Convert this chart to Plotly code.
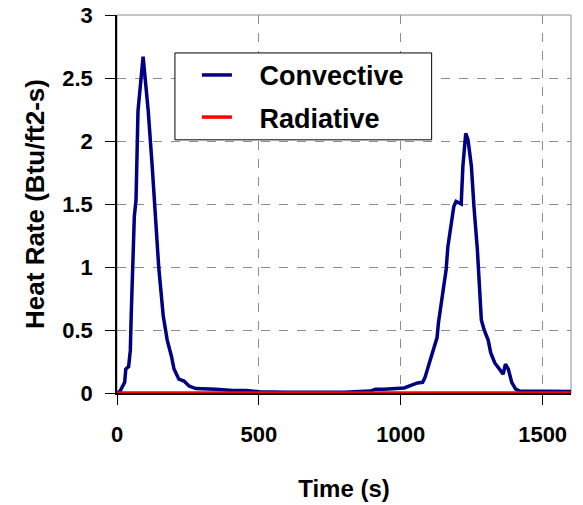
import plotly.graph_objects as go

# Convective heat rate (time in s, Btu/ft2-s)
conv_t = [0, 11, 27, 31, 41, 47, 50, 55, 61, 67, 74, 92, 110, 124, 136, 147, 163, 177, 192, 201,
          218, 236, 254, 278, 349, 408, 455, 503, 600, 700, 800, 893, 911, 941, 976, 1012, 1036,
          1059, 1077, 1085, 1097, 1112, 1128, 1133, 1144, 1160, 1166, 1178, 1187, 1195, 1213,
          1219, 1229, 1237, 1249, 1258, 1270, 1284, 1294, 1308, 1317, 1331, 1349, 1361, 1369,
          1379, 1391, 1405, 1420, 1500, 1600]
conv_q = [0.0, 0.015, 0.085, 0.19, 0.21, 0.34, 0.61, 1.0, 1.40, 1.53, 2.24, 2.67, 2.24, 1.8, 1.37, 1.0, 0.61, 0.42, 0.29, 0.19,
          0.11, 0.095, 0.055, 0.035, 0.03, 0.02, 0.02, 0.01, 0.005, 0.004, 0.005, 0.015, 0.03, 0.03, 0.033, 0.04, 0.06,
          0.08, 0.085, 0.12, 0.21, 0.32, 0.44, 0.56, 0.74, 0.98, 1.16, 1.32, 1.48, 1.52, 1.50,
          1.80, 2.06, 2.01, 1.80, 1.48, 1.14, 0.58, 0.50, 0.42, 0.32, 0.24, 0.19, 0.15, 0.23,
          0.19, 0.085, 0.03, 0.015, 0.012, 0.012]

# Radiative heat rate
rad_t = [0, 400, 800, 1200, 1600]
rad_q = [0.0, 0.0, 0.0, 0.0, 0.0]

x_ticks = [0, 500, 1000, 1500]
y_ticks = [0, 0.5, 1, 1.5, 2, 2.5, 3]

FONT = "Liberation Sans, Arial, sans-serif"
PAD = "\u00a0\u00a0\u00a0"

fig = go.Figure()
fig.add_trace(go.Scatter(x=conv_t, y=conv_q, mode="lines", name=PAD + "Convective",
                         line=dict(color="#000080", width=3.5), legendgroup="a", cliponaxis=False))
fig.add_trace(go.Scatter(x=rad_t, y=rad_q, mode="lines", name=PAD + "Radiative",
                         line=dict(color="#FF0000", width=3.5), legendgroup="b", cliponaxis=False))

fig.update_layout(
    width=583, height=505,
    margin=dict(l=117, r=11.5, t=15, b=111.5),
    paper_bgcolor="white", plot_bgcolor="white",
    font=dict(family=FONT, color="black"),
    showlegend=True,
    legend=dict(x=(197 - 117) / 454.5, y=0.905, xanchor="left", yanchor="top",
                bgcolor="rgba(0,0,0,0)", borderwidth=0,
                font=dict(family=FONT, size=27, weight="bold", color="black"),
                tracegroupgap=4),
    shapes=[
        dict(type="rect", xref="paper", yref="paper", x0=0, x1=1, y0=0, y1=1,
             line=dict(color="#8c8c8c", width=1), layer="below"),
        dict(type="rect", xref="paper", yref="paper",
             x0=(175 - 117) / 454.5, x1=(432 - 117) / 454.5,
             y0=(393.5 - 140) / 378.5, y1=(393.5 - 53) / 378.5,
             line=dict(color="black", width=1), fillcolor="white", layer="above"),
    ],
)

fig.update_xaxes(range=[0, 1600], tickvals=x_ticks, ticks="outside", ticklen=10, tickcolor="black",
                 showline=True, linecolor="black", linewidth=1.5, zeroline=False, automargin=False,
                 showgrid=True, gridcolor="#8c8c8c", griddash="dash", gridwidth=1,
                 tickfont=dict(family=FONT, size=22, weight="bold"), ticklabelstandoff=11,
                 title=dict(text="Time (s)", font=dict(family=FONT, size=24, weight="bold"), standoff=34))
fig.update_yaxes(range=[0, 3], tickvals=y_ticks, ticks="outside", ticklen=10, tickcolor="black",
                 showline=True, linecolor="black", linewidth=1.5, zeroline=False, automargin=False,
                 showgrid=True, gridcolor="#8c8c8c", griddash="dash", gridwidth=1,
                 tickfont=dict(family=FONT, size=22, weight="bold"), ticklabelstandoff=8,
                 title=dict(text="Heat Rate (Btu/ft2-s)", font=dict(family=FONT, size=26, weight="bold"), standoff=10))

fig.write_html("out.html")
